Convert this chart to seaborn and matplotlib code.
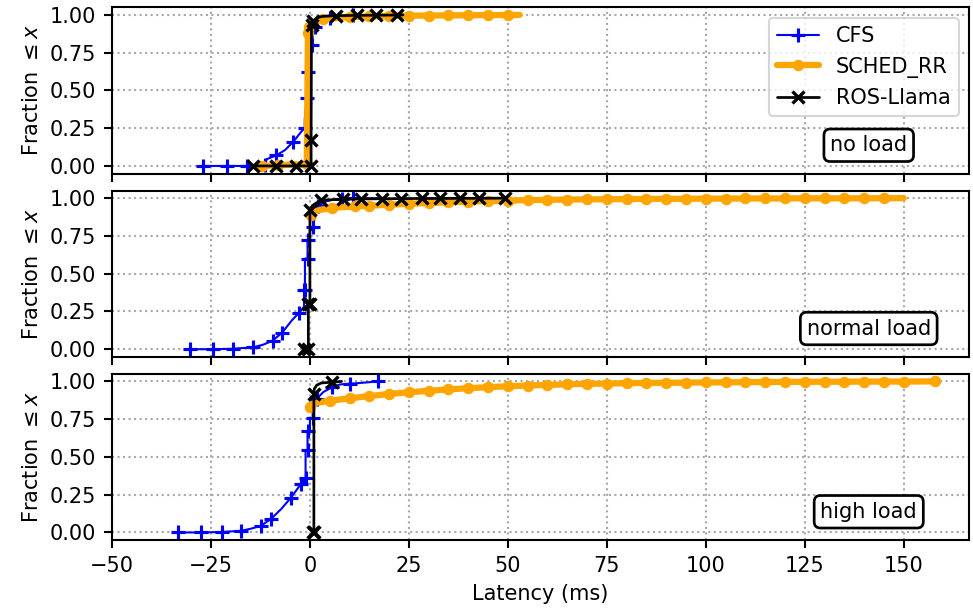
import matplotlib
matplotlib.use("Agg")
import matplotlib.pyplot as plt
import seaborn as sns

# Cumulative latency distributions (latency in ms, fraction of samples <= latency)
# -- no load --
cfs_noload_ms = [-27.1, -26.1, -21.0, -16.0, -11.4, -10.9, -8.5, -6.3, -4.2, -2.1, -1.3, -1.3,
                 -0.8, -0.4, 0.0, 0.4, 0.8, 1.3, 2.2, 3.3, 5.0, 6.7, 8.8, 11.0, 13.4, 15.0]
cfs_noload_frac = [0.0, 0.0, 0.0, 0.0, 0.005, 0.045, 0.07, 0.105, 0.16, 0.23, 0.25, 0.31,
                   0.45, 0.62, 0.72, 0.80, 0.87, 0.92, 0.95, 0.97, 0.98, 0.99, 0.995, 0.997, 0.999, 1.0]
rr_noload_ms = [-12.2, -8.0, -4.0, -0.8, -0.5, -0.3, 0.3, 1.5, 3.3, 6.7, 10.0, 15.0, 20.0,
                25.0, 30.0, 35.0, 40.0, 45.0, 50.0, 53.0]
rr_noload_frac = [0.0, 0.005, 0.01, 0.01, 0.88, 0.92, 0.94, 0.96, 0.97, 0.98, 0.985, 0.99, 0.993,
                  0.995, 0.996, 0.997, 0.998, 0.999, 0.999, 1.0]
llama_noload_ms = [-14.3, -13.1, -8.6, -3.4, 0.3, 0.3, 0.4, 0.9, 1.7, 3.0, 6.7, 11.8,
                   16.8, 21.9, 23.5]
llama_noload_frac = [0.0, 0.0, 0.0, 0.0, 0.0, 0.17, 0.93, 0.96, 0.98, 0.99, 0.995, 0.997,
                     0.998, 0.999, 1.0]

# -- normal load --
cfs_normal_ms = [-30.3, -29.3, -24.4, -19.4, -14.3, -11.8, -9.4, -7.0, -4.6, -2.8, -1.5, -1.5,
                 -1.26, -1.26, -0.6, -0.6, 0.0, 0.0, 0.8, 1.3, 2.1, 4.2, 5.9, 8.0, 11.0, 14.0, 17.0]
cfs_normal_frac = [0.0, 0.0, 0.0, 0.003, 0.013, 0.03, 0.057, 0.11, 0.19, 0.24, 0.28, 0.39,
                   0.39, 0.60, 0.60, 0.72, 0.72, 0.78, 0.81, 0.89, 0.95, 0.98, 0.99, 0.995, 0.998,
                   0.999, 1.0]
rr_normal_ms = [0.3, 0.5, 1.4, 3.0, 5.5, 8.0, 11.4, 15.0, 20.0, 25.0, 30.0, 35.0, 40.0, 45.0,
                50.0, 55.0, 60.0, 65.0, 70.0, 75.0, 80.0, 85.0, 90.0, 95.0, 100.0, 105.0, 110.0,
                115.0, 120.0, 125.0, 130.0, 135.0, 140.0, 145.0, 150.0]
rr_normal_frac = [0.89, 0.91, 0.915, 0.925, 0.935, 0.94, 0.945, 0.95, 0.957, 0.963, 0.968, 0.973,
                  0.977, 0.981, 0.984, 0.987, 0.989, 0.991, 0.992, 0.993, 0.994, 0.995, 0.996,
                  0.996, 0.997, 0.997, 0.998, 0.998, 0.998, 0.999, 0.999, 0.999, 0.999, 1.0, 1.0]
llama_normal_ms = [-1.5, -0.4, -0.4, 0.0, 0.0, 0.6, 1.7, 2.9, 5.5, 8.3, 12.8, 18.1, 22.9, 28.2,
                   32.8, 38.0, 42.8, 47.8, 49.2]
llama_normal_frac = [0.0, 0.0, 0.30, 0.30, 0.92, 0.95, 0.97, 0.985, 0.99, 0.993, 0.995, 0.996,
                     0.997, 0.998, 0.998, 0.999, 0.999, 1.0, 1.0]

# -- high load --
cfs_high_ms = [-33.2, -32.0, -27.4, -22.3, -17.4, -14.9, -12.4, -9.8, -7.3, -4.8, -2.3, -1.5,
               -1.5, -1.1, -1.1, -0.6, -0.6, 0.0, 0.0, 0.7, 0.7, 1.7, 3.4, 5.5, 7.6, 10.0, 12.8,
               15.0, 17.3]
cfs_high_frac = [0.0, 0.0, 0.0, 0.003, 0.011, 0.025, 0.044, 0.09, 0.154, 0.23, 0.32, 0.33,
                 0.36, 0.36, 0.545, 0.545, 0.67, 0.67, 0.755, 0.755, 0.84, 0.885, 0.93, 0.96,
                 0.98, 0.985, 0.99, 0.995, 1.0]
rr_high_ms = [0.0, 0.4, 2.0, 5.0, 10.0, 15.0, 20.0, 25.0, 30.0, 35.0, 40.0, 45.0, 50.0, 55.0,
              60.0, 65.0, 70.0, 75.0, 80.0, 85.0, 90.0, 95.0, 100.0, 105.0, 110.0, 115.0, 120.0,
              125.0, 130.0, 135.0, 140.0, 145.0, 150.0, 155.0, 158.0]
rr_high_frac = [0.83, 0.85, 0.86, 0.872, 0.888, 0.903, 0.917, 0.928, 0.938, 0.947, 0.955, 0.962,
                0.968, 0.973, 0.977, 0.981, 0.984, 0.986, 0.988, 0.99, 0.991, 0.992, 0.993,
                0.994, 0.995, 0.996, 0.997, 0.997, 0.998, 0.998, 0.999, 0.999, 0.999, 1.0, 1.0]
llama_high_ms = [0.7, 1.0, 1.0, 1.1, 1.7, 2.9, 5.6, 8.0]
llama_high_frac = [0.0, 0.0, 0.92, 0.95, 0.975, 0.99, 0.995, 1.0]

panel_names = ["no load", "normal load", "high load"]
series_names = ["CFS", "SCHED_RR", "ROS-Llama"]
panels = [
    [(cfs_noload_ms, cfs_noload_frac), (rr_noload_ms, rr_noload_frac),
     (llama_noload_ms, llama_noload_frac)],
    [(cfs_normal_ms, cfs_normal_frac), (rr_normal_ms, rr_normal_frac),
     (llama_normal_ms, llama_normal_frac)],
    [(cfs_high_ms, cfs_high_frac), (rr_high_ms, rr_high_frac),
     (llama_high_ms, llama_high_frac)],
]
x_ticks = [-50, -25, 0, 25, 50, 75, 100, 125, 150]
y_ticks = [0.0, 0.25, 0.5, 0.75, 1.0]

styles = [
    dict(color="blue", lw=1.0, marker="+", ms=7, mew=1.5, mec="blue"),
    dict(color="orange", lw=3.0, marker="o", ms=5, mew=0.5, mec="orange"),
    dict(color="black", lw=1.3, marker="x", ms=6, mew=1.6, mec="black"),
]

sns.set_style("ticks")
plt.rcParams["font.family"] = ["DejaVu Sans"]
plt.rcParams["font.size"] = 10
plt.rcParams["axes.linewidth"] = 1.0
plt.rcParams["text.color"] = "black"
plt.rcParams["axes.labelcolor"] = "black"
plt.rcParams["xtick.color"] = "black"
plt.rcParams["ytick.color"] = "black"
plt.rcParams["xtick.direction"] = "out"
plt.rcParams["ytick.direction"] = "out"

fig, axes = plt.subplots(3, 1, sharex=True, figsize=(973 / 150, 614 / 150), dpi=150)
fig.subplots_adjust(left=0.1151, right=0.9959, top=0.988, bottom=0.1205, hspace=0.103)

for ax, curves, pname in zip(axes, panels, panel_names):
    for (lat, frac), name, st in zip(curves, series_names, styles):
        sns.lineplot(x=lat, y=frac, ax=ax, estimator=None, sort=False,
                     markevery=0.023, label=name, **st)
    ax.set_xlim(-50, 166.5)
    ax.set_ylim(-0.05, 1.05)
    ax.set_yticks(y_ticks)
    ax.set_yticklabels([f"{t:.2f}" for t in y_ticks])
    ax.set_ylabel(r"Fraction $\leq x$")
    ax.grid(True, linestyle=":", color="#a8a8a8", linewidth=1.0)
    for sp in ax.spines.values():
        sp.set_color("black")
    ax.tick_params(axis="both", length=4, width=1, color="black", labelcolor="black",
                   labelsize=10)
    ax.text(0.883, 0.17, pname, transform=ax.transAxes, ha="center", va="center",
            fontsize=10, color="black",
            bbox=dict(boxstyle="round,pad=0.3", fc="white", ec="black", lw=1.3))
    if ax is not axes[0]:
        ax.get_legend().remove()

axes[-1].set_xticks(x_ticks)
axes[-1].set_xlabel("Latency (ms)")
axes[0].legend(loc="upper right", fontsize=10, framealpha=0.8, labelcolor="black")

fig.savefig("out.png", dpi=150)
